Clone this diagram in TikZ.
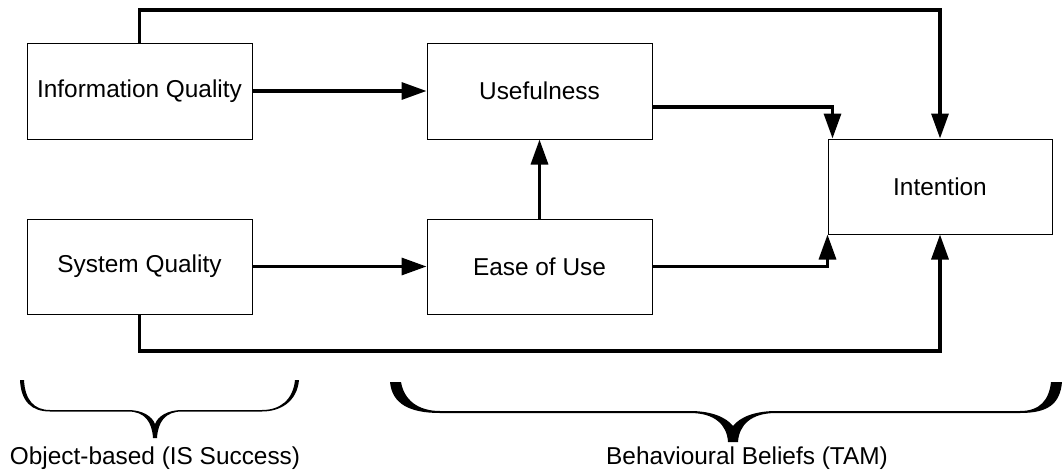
\documentclass[tikz,border=0pt]{standalone}
\usepackage{fontspec}
\setmainfont{Liberation Sans}
\usetikzlibrary{arrows.meta}
\begin{document}
\begin{tikzpicture}[x=1pt,y=-1pt,
  box/.style={draw=black,line width=1pt,minimum width=225pt,minimum height=96pt,inner sep=0pt,font=\fontsize{24.4}{29}\selectfont},
  conn/.style={line width=3.3pt,line join=miter,-{Triangle[length=25pt,width=17pt]}},
  plainconn/.style={line width=3.3pt,line join=miter},
  lbl/.style={font=\fontsize{24.4}{29}\selectfont,inner sep=0pt},
  bracefill/.style={fill=black,draw=none}]
\useasboundingbox (0,0) rectangle (1064,471);
\node[box] (iq) at (139.5,91) {Information Quality};
\node[box] (use) at (539.5,91) {Usefulness};
\node[box,minimum height=95pt] (sq) at (139.5,266.5) {System Quality};
\node[box,minimum height=95pt] (eou) at (539.5,266.5) {Ease of Use};
\node[box,minimum width=224pt,minimum height=95pt] (int) at (940,186.5) {Intention};
\coordinate (topy) at (0,10);
\coordinate (boty) at (0,351);
% connectors
\draw[conn] (iq.north) -- (iq.north |- topy) -| (int.north);
\draw[conn] (iq.east) -- (use.west);
\draw[conn] ([yshift=-16pt]use.east) -| ([xshift=5pt]int.north west);
\draw[conn] (eou.north) -- (use.south);
\draw[conn] (sq.east) -- (eou.west);
\draw[conn] (eou.east) -| (int.south west);
\draw[conn] (sq.south) -- (sq.south |- boty) -| (int.south);
% left brace
\fill[bracefill] (20,380) .. controls (21,402) and (32,411.5) .. (50,411.5) -- (128,411.5)
  .. controls (145,411.5) and (152,422) .. (153,438) -- (157,438)
  .. controls (158,422) and (165,411.5) .. (182,411.5) -- (262,411.5)
  .. controls (280,411.5) and (297,402) .. (299,380) -- (295,380)
  .. controls (293,400) and (280,410) .. (262,410) -- (182,410)
  .. controls (168,410) and (158,416) .. (155,424)
  .. controls (152,416) and (142,410) .. (128,410) -- (50,410)
  .. controls (34,410) and (25,400) .. (24,380) -- cycle;
% right brace
\fill[bracefill] (390,382) .. controls (392,404) and (410,413) .. (440,413) -- (690,413)
  .. controls (715,413) and (727,425) .. (728,442) -- (738,442)
  .. controls (739,425) and (751,413) .. (776,413) -- (1020,413)
  .. controls (1048,413) and (1060,404) .. (1062,382) -- (1051,382)
  .. controls (1049,400) and (1040,411) .. (1020,411) -- (776,411)
  .. controls (755,411) and (740,417) .. (733,426)
  .. controls (726,417) and (711,411) .. (690,411) -- (440,411)
  .. controls (418,411) and (404,400) .. (401,382) -- cycle;
\node[lbl] (objlbl) at (155,458) {Object-based (IS Success)};
\node[lbl] (behlbl) at (747,458) {Behavioural Beliefs (TAM)};
\end{tikzpicture}
\end{document}
